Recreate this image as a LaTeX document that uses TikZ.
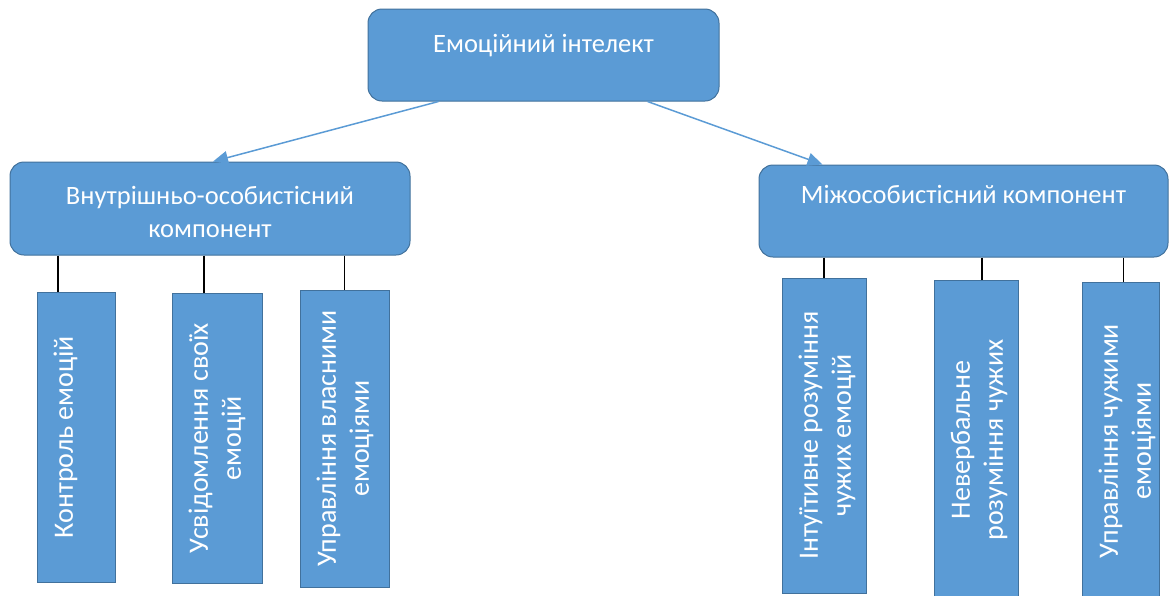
\documentclass[tikz,border=0pt]{standalone}
\usepackage{fontspec}
\setmainfont{Carlito}
\usetikzlibrary{arrows.meta}
\definecolor{boxblue}{HTML}{5B9BD5}
\definecolor{boxedge}{HTML}{41719C}
\tikzset{
    box/.style={draw=boxedge, fill=boxblue, line width=1pt, rounded corners=14pt, inner sep=0pt},
    leaf/.style={draw=boxedge, fill=boxblue, line width=1pt, rotate=90, inner sep=0pt},
    boxtext/.style={text=white, font=\fontsize{26.5}{33}\selectfont, align=center, inner sep=0pt},
    leaftext/.style={boxtext, font=\fontsize{28}{33}\selectfont, rotate=90, anchor=north},
    link/.style={black, line width=1.3pt},
    pointer/.style={boxblue, line width=1.5pt, -{Triangle[length=15pt,width=13pt]}}
}
\begin{document}
\begin{tikzpicture}[x=1pt, y=-1pt]
    \useasboundingbox (0,0) rectangle (1169,595);

    % Central node
    \node[box, minimum width=351pt, minimum height=92pt] (emo) at (543.5,55) {};
    \node[boxtext] (emo-t) at ([yshift=-37pt]emo.north) {Емоційний інтелект};

    % Two components
    \node[box, minimum width=400pt, minimum height=93pt] (intra) at (210,208.5) {};
    \node[boxtext] (intra-t) at ([yshift=-3pt]intra.center) {Внутрішньо-особистісний\\компонент};

    \node[box, minimum width=409pt, minimum height=92pt] (inter) at (963.5,211) {};
    \node[boxtext] (inter-t) at ([yshift=-30pt]inter.north) {Міжособистісний компонент};

    % Arrows from the centre
    \draw[pointer] ([xshift=-105pt]emo.south) -- ([xshift=3pt]intra.north);
    \draw[pointer] ([xshift=104pt]emo.south) -- ([xshift=-141pt]inter.north);

    % Left leaves
    \node[leaf, minimum width=290pt, minimum height=78pt] (ctrl) at (76,437) {};
    \node[leaftext] (ctrl-t) at ([xshift=17pt]ctrl.north) {Контроль емоцій};

    \node[leaf, minimum width=290pt, minimum height=90pt] (aware) at (217,438) {};
    \node[leaftext] (aware-t) at ([xshift=17pt]aware.north) {Усвідомлення своїх\\емоцій};

    \node[leaf, minimum width=297pt, minimum height=89pt] (own) at (344.5,438.5) {};
    \node[leaftext] (own-t) at ([xshift=17pt]own.north) {Управління власними\\емоціями};

    % Right leaves
    \node[leaf, minimum width=315pt, minimum height=84pt] (intuit) at (824,435.5) {};
    \node[leaftext] (intuit-t) at ([xshift=17pt]intuit.north) {Інтуїтивне розуміння\\чужих емоцій};

    \node[leaf, minimum width=320pt, minimum height=84pt] (nonverb) at (976,440) {};
    \node[leaftext] (nonverb-t) at ([xshift=17pt]nonverb.north) {Невербальне\\розуміння чужих};

    \node[leaf, minimum width=318pt, minimum height=77pt] (others) at (1120.5,441) {};
    \node[leaftext] (others-t) at ([xshift=17pt]others.north) {Управління чужими\\емоціями};

    % Connectors
    \coordinate (ctrl-c) at ([xshift=-18pt]ctrl.east);
    \coordinate (aware-c) at ([xshift=-13pt]aware.east);
    \coordinate (nonverb-c) at ([xshift=6pt]nonverb.east);
    \coordinate (others-c) at ([xshift=3pt]others.east);
    \draw[link] (intra.south -| ctrl-c) -- (ctrl-c);
    \draw[link] (intra.south -| aware-c) -- (aware-c);
    \draw[link] (intra.south -| own.east) -- (own.east);
    \draw[link] (inter.south -| intuit.east) -- (intuit.east);
    \draw[link] (inter.south -| nonverb-c) -- (nonverb-c);
    \draw[link] (inter.south -| others-c) -- (others-c);
\end{tikzpicture}
\end{document}
